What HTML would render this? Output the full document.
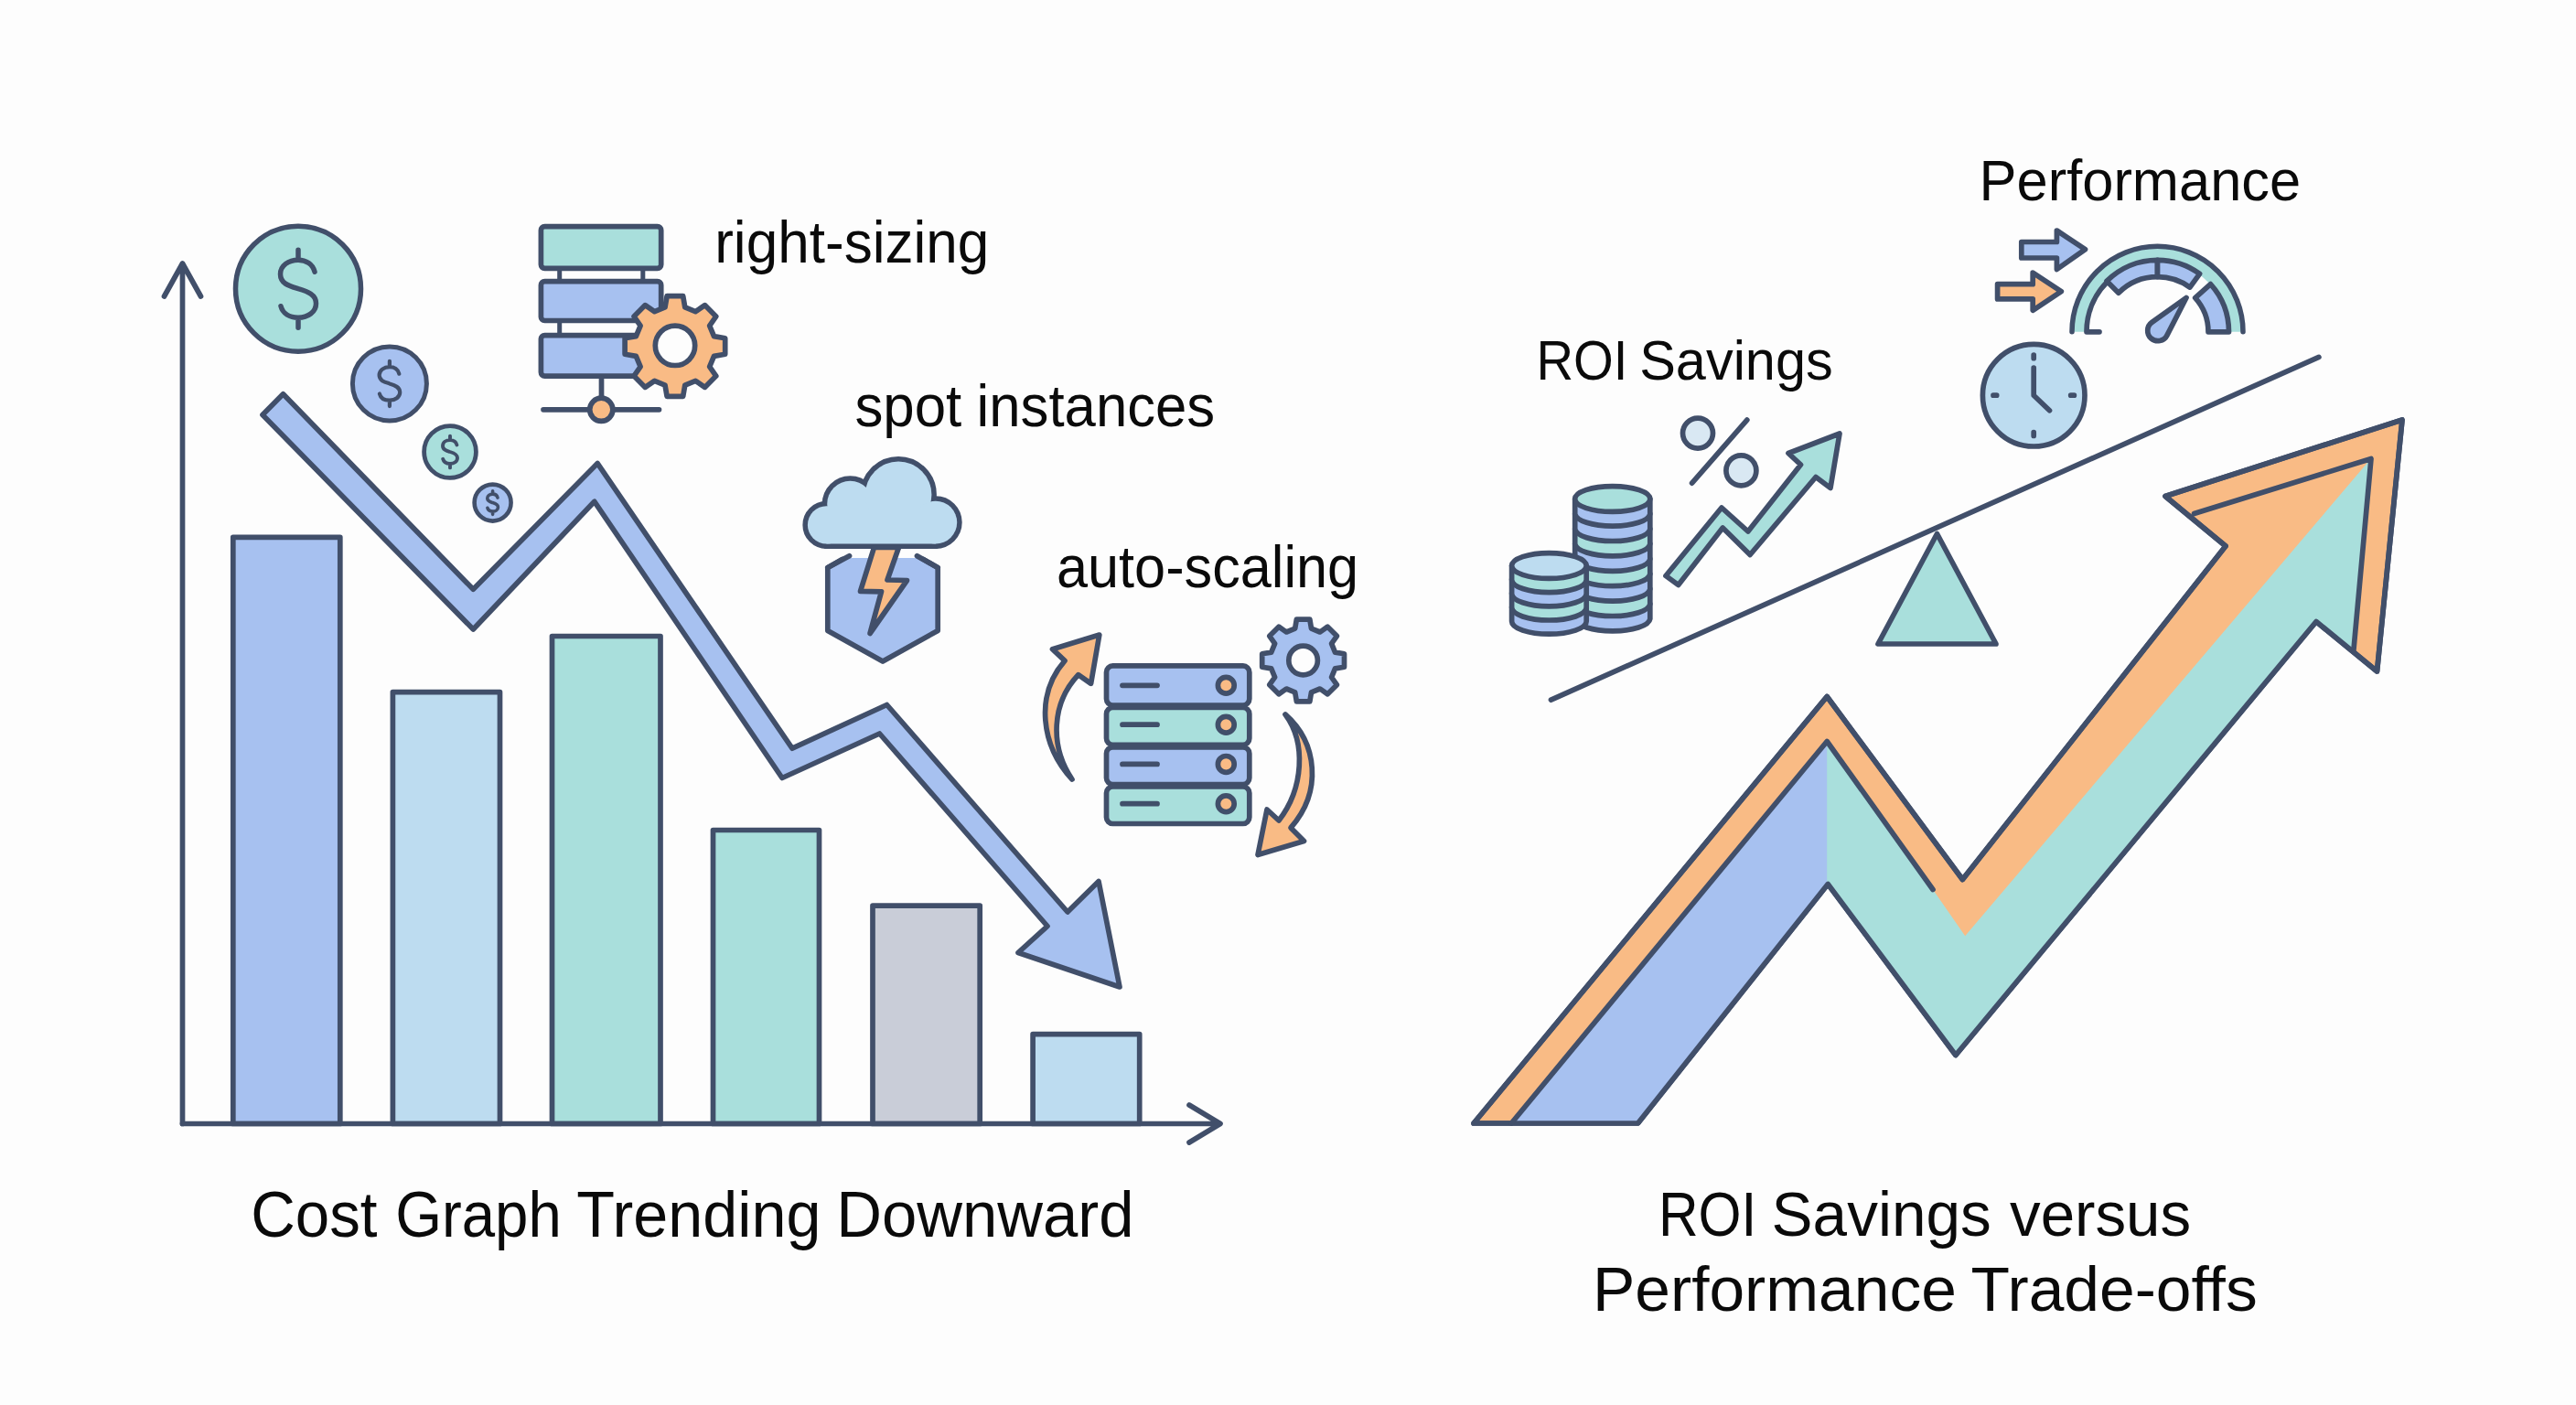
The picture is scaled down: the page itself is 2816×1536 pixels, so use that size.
<!DOCTYPE html>
<html><head><meta charset="utf-8"><style>
html,body{margin:0;padding:0;background:#fdfdfd;}
svg{display:block;}
text{font-family:"Liberation Sans",sans-serif;}
</style></head><body>
<svg width="2816" height="1536" viewBox="0 0 2816 1536">
<rect width="2816" height="1536" fill="#fdfdfd"/>
<rect x="254.8" y="587.3" width="117.0" height="641.2" fill="#a7c1f0" stroke="#414f6a" stroke-width="5.7" stroke-linejoin="round"/>
<rect x="429.4" y="756.7" width="117.1" height="471.8" fill="#bddcf0" stroke="#414f6a" stroke-width="5.7" stroke-linejoin="round"/>
<rect x="603.5" y="695.5" width="118.5" height="533.0" fill="#a9dfdc" stroke="#414f6a" stroke-width="5.7" stroke-linejoin="round"/>
<rect x="779.5" y="907.5" width="116.0" height="321.0" fill="#a9dfdc" stroke="#414f6a" stroke-width="5.7" stroke-linejoin="round"/>
<rect x="954.0" y="990.1" width="117.2" height="238.4" fill="#c9cdd8" stroke="#414f6a" stroke-width="5.7" stroke-linejoin="round"/>
<rect x="1129.1" y="1130.7" width="116.6" height="97.8" fill="#bddcf0" stroke="#414f6a" stroke-width="5.7" stroke-linejoin="round"/>
<path d="M199.5,1228.5 L199.5,288 M179.5,324 L199.5,288 L219.5,324" fill="none" stroke="#414f6a" stroke-width="5.7" stroke-linecap="round" stroke-linejoin="round"/>
<path d="M199.5,1228.5 L1333,1228.5 M1300,1208 L1334,1228.5 L1300,1249" fill="none" stroke="#414f6a" stroke-width="5.7" stroke-linecap="round" stroke-linejoin="round"/>
<polygon points="309.5,430.8 517.3,644.3 653.2,506.6 866.0,818.2 969.5,770.5 1167.0,997.0 1201.0,963.5 1224.0,1079.0 1113.0,1041.5 1145.0,1012.5 961.5,802.0 855.0,850.5 649.8,548.3 517.3,688.0 287.0,453.5" fill="#a7c1f0" stroke="#414f6a" stroke-width="5.7" stroke-linejoin="round"/>
<circle cx="326" cy="315.7" r="68.5" fill="#a9dfdc" stroke="#414f6a" stroke-width="5.5"/>
<path d="M18,-18.5 C16,-27 8.5,-31.5 0,-31.5 C-10.5,-31.5 -19.5,-25.5 -19.5,-16 C-19.5,-5.5 -9.5,-3 0,0 C10.5,3 19.5,6.5 19.5,16 C19.5,25.5 10.5,31.5 0,31.5 C-9.5,31.5 -17,27 -19,19 M0,-42.5 L0,-31.5 M0,31.5 L0,42.5" transform="translate(326,315.7) scale(1.0)" fill="none" stroke="#414f6a" stroke-width="5.50" stroke-linecap="round"/>
<circle cx="425.9" cy="419.4" r="40.5" fill="#a7c1f0" stroke="#414f6a" stroke-width="5.0"/>
<path d="M18,-18.5 C16,-27 8.5,-31.5 0,-31.5 C-10.5,-31.5 -19.5,-25.5 -19.5,-16 C-19.5,-5.5 -9.5,-3 0,0 C10.5,3 19.5,6.5 19.5,16 C19.5,25.5 10.5,31.5 0,31.5 C-9.5,31.5 -17,27 -19,19 M0,-42.5 L0,-31.5 M0,31.5 L0,42.5" transform="translate(425.9,419.4) scale(0.58)" fill="none" stroke="#414f6a" stroke-width="7.24" stroke-linecap="round"/>
<circle cx="492.0" cy="494.0" r="28.4" fill="#a9dfdc" stroke="#414f6a" stroke-width="4.8"/>
<path d="M18,-18.5 C16,-27 8.5,-31.5 0,-31.5 C-10.5,-31.5 -19.5,-25.5 -19.5,-16 C-19.5,-5.5 -9.5,-3 0,0 C10.5,3 19.5,6.5 19.5,16 C19.5,25.5 10.5,31.5 0,31.5 C-9.5,31.5 -17,27 -19,19 M0,-42.5 L0,-31.5 M0,31.5 L0,42.5" transform="translate(492.0,494.0) scale(0.41)" fill="none" stroke="#414f6a" stroke-width="9.51" stroke-linecap="round"/>
<circle cx="538.6" cy="549.6" r="20.0" fill="#a7c1f0" stroke="#414f6a" stroke-width="4.6"/>
<path d="M18,-18.5 C16,-27 8.5,-31.5 0,-31.5 C-10.5,-31.5 -19.5,-25.5 -19.5,-16 C-19.5,-5.5 -9.5,-3 0,0 C10.5,3 19.5,6.5 19.5,16 C19.5,25.5 10.5,31.5 0,31.5 C-9.5,31.5 -17,27 -19,19 M0,-42.5 L0,-31.5 M0,31.5 L0,42.5" transform="translate(538.6,549.6) scale(0.3)" fill="none" stroke="#414f6a" stroke-width="12.00" stroke-linecap="round"/>
<rect x="609.2" y="294" width="5" height="13" fill="#414f6a"/>
<rect x="700.3" y="294" width="5" height="13" fill="#414f6a"/>
<rect x="609.2" y="351" width="5" height="15" fill="#414f6a"/>
<rect x="700.3" y="351" width="5" height="15" fill="#414f6a"/>
<rect x="591.4" y="247.7" width="131.3" height="45.6" rx="4" fill="#a9dfdc" stroke="#414f6a" stroke-width="5.7"/>
<rect x="591.4" y="307.7" width="131.3" height="42.8" rx="4" fill="#a7c1f0" stroke="#414f6a" stroke-width="5.7"/>
<rect x="591.4" y="366.6" width="131.3" height="44.5" rx="4" fill="#a7c1f0" stroke="#414f6a" stroke-width="5.7"/>
<path d="M657.5,413 L657.5,436 M594,447.8 L720.5,447.8" fill="none" stroke="#414f6a" stroke-width="5.7" stroke-linecap="round"/>
<circle cx="657.3" cy="447.8" r="12.6" fill="#f9bb85" stroke="#414f6a" stroke-width="5.7"/>
<path d="M727.0,335.9 L729.1,323.7 L746.7,323.7 L748.8,335.9 L760.3,340.7 L770.5,333.6 L782.8,345.9 L775.7,356.1 L780.5,367.6 L792.7,369.7 L792.7,387.3 L780.5,389.4 L775.7,400.9 L782.8,411.1 L770.5,423.4 L760.3,416.3 L748.8,421.1 L746.7,433.3 L729.1,433.3 L727.0,421.1 L715.5,416.3 L705.3,423.4 L693.0,411.1 L700.1,400.9 L695.3,389.4 L683.1,387.3 L683.1,369.7 L695.3,367.6 L700.1,356.1 L693.0,345.9 L705.3,333.6 L715.5,340.7 Z" fill="#f9bb85" stroke="#414f6a" stroke-width="5.7" stroke-linejoin="round"/>
<circle cx="738" cy="377.8" r="21.7" fill="#fdfdfd" stroke="#414f6a" stroke-width="5.7"/>
<clipPath id="hexclip"><rect x="880" y="608.5" width="170" height="140"/></clipPath>
<polygon points="965.0,723.1 904.8,689.4 904.8,620.6 965.0,585.8 1025.2,620.6 1025.2,689.4" fill="#a7c1f0" stroke="#414f6a" stroke-width="5.7" stroke-linejoin="round" clip-path="url(#hexclip)"/>
<rect x="925" y="598" width="80" height="12" fill="#fdfdfd"/>
<path d="M904.8,620.6 L928.5,607.7 M1002.5,607.7 L1025.2,620.6" fill="none" stroke="#414f6a" stroke-width="5.7" stroke-linecap="round"/>
<g>
<circle cx="903.5" cy="573.9" r="20.6" fill="#414f6a" stroke="#414f6a" stroke-width="11"/>
<circle cx="929.4" cy="551.0" r="25.2" fill="#414f6a" stroke="#414f6a" stroke-width="11"/>
<circle cx="982.1" cy="540.8" r="36.3" fill="#414f6a" stroke="#414f6a" stroke-width="11"/>
<circle cx="1022.8" cy="571.1" r="23.4" fill="#414f6a" stroke="#414f6a" stroke-width="11"/>
<rect x="903.5" y="558" width="119.3" height="36.5" fill="#414f6a" stroke="#414f6a" stroke-width="11" stroke-linejoin="round"/>
<circle cx="903.5" cy="573.9" r="20.6" fill="#bddcf0"/>
<circle cx="929.4" cy="551.0" r="25.2" fill="#bddcf0"/>
<circle cx="982.1" cy="540.8" r="36.3" fill="#bddcf0"/>
<circle cx="1022.8" cy="571.1" r="23.4" fill="#bddcf0"/>
<rect x="903.5" y="558" width="119.3" height="36.5" fill="#bddcf0"/>
</g>
<polygon points="955.5,598.5 982.5,598.5 970.0,634.0 991.5,634.5 951.0,692.5 963.5,646.8 940.5,646.3" fill="#f9bb85" stroke="#414f6a" stroke-width="5.7" stroke-linejoin="round"/>
<rect x="1209.5" y="727.9" width="156.3" height="43.1" rx="7" fill="#a7c1f0" stroke="#414f6a" stroke-width="5.7"/>
<rect x="1209.5" y="773.5" width="156.3" height="40.8" rx="7" fill="#a9dfdc" stroke="#414f6a" stroke-width="5.7"/>
<rect x="1209.5" y="816.8" width="156.3" height="40.7" rx="7" fill="#a7c1f0" stroke="#414f6a" stroke-width="5.7"/>
<rect x="1209.5" y="860.0" width="156.3" height="40.5" rx="7" fill="#a9dfdc" stroke="#414f6a" stroke-width="5.7"/>
<path d="M1227,749.3 L1265,749.3" stroke="#414f6a" stroke-width="5.7" stroke-linecap="round"/>
<circle cx="1340.3" cy="749.3" r="8.9" fill="#f9bb85" stroke="#414f6a" stroke-width="5.7"/>
<path d="M1227,792.2 L1265,792.2" stroke="#414f6a" stroke-width="5.7" stroke-linecap="round"/>
<circle cx="1340.3" cy="792.2" r="8.9" fill="#f9bb85" stroke="#414f6a" stroke-width="5.7"/>
<path d="M1227,835.4 L1265,835.4" stroke="#414f6a" stroke-width="5.7" stroke-linecap="round"/>
<circle cx="1340.3" cy="835.4" r="8.9" fill="#f9bb85" stroke="#414f6a" stroke-width="5.7"/>
<path d="M1227,878.7 L1265,878.7" stroke="#414f6a" stroke-width="5.7" stroke-linecap="round"/>
<circle cx="1340.3" cy="878.7" r="8.9" fill="#f9bb85" stroke="#414f6a" stroke-width="5.7"/>
<path d="M1415.7,687.1 L1417.4,677.1 L1431.8,677.1 L1433.5,687.1 L1443.0,691.0 L1451.3,685.2 L1461.4,695.3 L1455.6,703.6 L1459.5,713.1 L1469.5,714.8 L1469.5,729.2 L1459.5,730.9 L1455.6,740.4 L1461.4,748.7 L1451.3,758.8 L1443.0,753.0 L1433.5,756.9 L1431.8,766.9 L1417.4,766.9 L1415.7,756.9 L1406.2,753.0 L1397.9,758.8 L1387.8,748.7 L1393.6,740.4 L1389.7,730.9 L1379.7,729.2 L1379.7,714.8 L1389.7,713.1 L1393.6,703.6 L1387.8,695.3 L1397.9,685.2 L1406.2,691.0 Z" fill="#a7c1f0" stroke="#414f6a" stroke-width="5.7" stroke-linejoin="round"/>
<circle cx="1424.6" cy="722" r="15.8" fill="#fdfdfd" stroke="#414f6a" stroke-width="5.7"/>
<path d="M1172,852 C1138,815 1131,760 1164,722.3 L1150.5,709.7 L1201.8,694.1 L1192.6,747.3 L1178.7,737.7 C1150,768 1147,815 1172,852 Z" fill="#f9bb85" stroke="#414f6a" stroke-width="5.7" stroke-linejoin="round"/>
<path d="M1405,781 C1440,812 1446,865 1411,905 L1425.5,919.5 L1375,934.5 L1385,885 L1398,897 C1425,862 1428,812 1405,781 Z" fill="#f9bb85" stroke="#414f6a" stroke-width="5.7" stroke-linejoin="round"/>
<polygon points="1611.0,1228.0 1997.2,761.5 2145.4,961.5 2433.0,597.0 2367.0,542.5 2626.0,459.0 2598.5,734.0 2532.0,679.5 2137.9,1153.5 1998.2,966.5 1790.5,1228.0" fill="#f9bb85" stroke="#414f6a" stroke-width="5.7" stroke-linejoin="round"/>
<polygon points="1652.2,1228.0 1997.2,810.5 2113.0,972.5 2148.2,1023.2 2590.0,503.5 2572.9,710.8 2532.0,679.5 2137.9,1153.5 1998.2,966.5 1790.5,1228.0" fill="#a9dfdc"/>
<polygon points="1652.2,1228.0 1997.2,810.5 1997.2,966.5 1790.5,1228.0" fill="#a7c1f0"/>
<polygon points="1611.0,1228.0 1997.2,761.5 2145.4,961.5 2433.0,597.0 2367.0,542.5 2626.0,459.0 2598.5,734.0 2532.0,679.5 2137.9,1153.5 1998.2,966.5 1790.5,1228.0" fill="none" stroke="#414f6a" stroke-width="5.7" stroke-linejoin="round"/>
<path d="M1652.2,1228.0 L1997.2,810.5 L2113.0,972.5 M2398.5,561.5 L2592.0,501.5 L2572.9,710.8" fill="none" stroke="#414f6a" stroke-width="5.7" stroke-linejoin="round" stroke-linecap="round"/>
<path d="M1695.5,765.2 L2534.9,390.4" stroke="#414f6a" stroke-width="5.7" stroke-linecap="round"/>
<polygon points="2117.5,583.5 2053.0,704.0 2182.0,704.0" fill="#a9dfdc" stroke="#414f6a" stroke-width="5.7" stroke-linejoin="round"/>
<path d="M1721.7,660.3 L1721.7,676.7 A41.1,13.9 0 0 0 1803.8,676.7 L1803.8,660.3 Z" fill="#a7c1f0" stroke="#414f6a" stroke-width="5.7" stroke-linejoin="round"/>
<path d="M1721.7,643.9 L1721.7,660.3 A41.1,13.9 0 0 0 1803.8,660.3 L1803.8,643.9 Z" fill="#a9dfdc" stroke="#414f6a" stroke-width="5.7" stroke-linejoin="round"/>
<path d="M1721.7,627.5 L1721.7,643.9 A41.1,13.9 0 0 0 1803.8,643.9 L1803.8,627.5 Z" fill="#a7c1f0" stroke="#414f6a" stroke-width="5.7" stroke-linejoin="round"/>
<path d="M1721.7,611.1 L1721.7,627.5 A41.1,13.9 0 0 0 1803.8,627.5 L1803.8,611.1 Z" fill="#a9dfdc" stroke="#414f6a" stroke-width="5.7" stroke-linejoin="round"/>
<path d="M1721.7,594.7 L1721.7,611.1 A41.1,13.9 0 0 0 1803.8,611.1 L1803.8,594.7 Z" fill="#a7c1f0" stroke="#414f6a" stroke-width="5.7" stroke-linejoin="round"/>
<path d="M1721.7,578.3 L1721.7,594.7 A41.1,13.9 0 0 0 1803.8,594.7 L1803.8,578.3 Z" fill="#a9dfdc" stroke="#414f6a" stroke-width="5.7" stroke-linejoin="round"/>
<path d="M1721.7,561.9 L1721.7,578.3 A41.1,13.9 0 0 0 1803.8,578.3 L1803.8,561.9 Z" fill="#a7c1f0" stroke="#414f6a" stroke-width="5.7" stroke-linejoin="round"/>
<path d="M1721.7,545.5 L1721.7,561.9 A41.1,13.9 0 0 0 1803.8,561.9 L1803.8,545.5 Z" fill="#a7c1f0" stroke="#414f6a" stroke-width="5.7" stroke-linejoin="round"/>
<ellipse cx="1762.75" cy="545.5" rx="41.1" ry="13.9" fill="#a9dfdc" stroke="#414f6a" stroke-width="5.7"/>
<path d="M1652.6,664.1 L1652.6,679.3 A40.8,13.9 0 0 0 1734.2,679.3 L1734.2,664.1 Z" fill="#a7c1f0" stroke="#414f6a" stroke-width="5.7" stroke-linejoin="round"/>
<path d="M1652.6,648.9 L1652.6,664.1 A40.8,13.9 0 0 0 1734.2,664.1 L1734.2,648.9 Z" fill="#a9dfdc" stroke="#414f6a" stroke-width="5.7" stroke-linejoin="round"/>
<path d="M1652.6,633.7 L1652.6,648.9 A40.8,13.9 0 0 0 1734.2,648.9 L1734.2,633.7 Z" fill="#a7c1f0" stroke="#414f6a" stroke-width="5.7" stroke-linejoin="round"/>
<path d="M1652.6,618.5 L1652.6,633.7 A40.8,13.9 0 0 0 1734.2,633.7 L1734.2,618.5 Z" fill="#a9dfdc" stroke="#414f6a" stroke-width="5.7" stroke-linejoin="round"/>
<ellipse cx="1693.4" cy="618.5" rx="40.8" ry="13.9" fill="#bddcf0" stroke="#414f6a" stroke-width="5.7"/>
<circle cx="1856" cy="473.6" r="16.5" fill="#d9e8f3" stroke="#414f6a" stroke-width="5.7"/>
<circle cx="1903.4" cy="514.4" r="16.5" fill="#d9e8f3" stroke="#414f6a" stroke-width="5.7"/>
<path d="M1849.6,528.2 L1909.8,459.1" stroke="#414f6a" stroke-width="5.7" stroke-linecap="round"/>
<polygon points="1821.0,629.5 1882.0,555.0 1910.9,581.0 1968.5,508.0 1955.0,495.5 2011.0,474.0 2001.0,533.5 1985.0,521.5 1913.1,606.5 1883.2,577.0 1834.7,639.5" fill="#a9dfdc" stroke="#414f6a" stroke-width="5.7" stroke-linejoin="round"/>
<polygon points="2209.8,264.5 2248.4,264.5 2248.4,252 2279.5,272.6 2248.4,294.5 2248.4,282 2209.8,282" fill="#a7c1f0" stroke="#414f6a" stroke-width="5.7" stroke-linejoin="round"/>
<polygon points="2183.6,310.7 2222.2,310.7 2222.2,298.2 2253.3,318.7 2222.2,339.3 2222.2,326.9 2183.6,326.9" fill="#f9bb85" stroke="#414f6a" stroke-width="5.7" stroke-linejoin="round"/>
<path d="M2265.0,362.8 A93.5,93.5 0 0 1 2452.0,362.8 L2436.0,362.8 A77.5,77.5 0 0 0 2281.0,362.8 Z" fill="#a9dfdc"/>
<path d="M2303.0,307.3 A78.5,78.5 0 0 1 2358.5,284.3 L2358.5,302.6 A60.2,60.2 0 0 0 2315.9,320.2 Z" fill="#a7c1f0" stroke="#414f6a" stroke-width="5.7" stroke-linejoin="round"/>
<path d="M2358.5,284.3 A78.5,78.5 0 0 1 2404.6,299.3 L2393.9,314.1 A60.2,60.2 0 0 0 2358.5,302.6 Z" fill="#a7c1f0" stroke="#414f6a" stroke-width="5.7" stroke-linejoin="round"/>
<path d="M2416.5,310.6 A78.0,78.0 0 0 1 2436.5,362.8 L2414.0,362.8 A55.5,55.5 0 0 0 2399.7,325.7 Z" fill="#a7c1f0" stroke="#414f6a" stroke-width="5.7" stroke-linejoin="round"/>
<path d="M2265.0,362.8 A93.5,93.5 0 0 1 2452.0,362.8" fill="none" stroke="#414f6a" stroke-width="5.5" stroke-linecap="round"/>
<path d="M2295.0,362.8 L2281.0,362.8 A77.5,77.5 0 0 1 2303.7,308.0" fill="none" stroke="#414f6a" stroke-width="5.7" stroke-linecap="round" stroke-linejoin="round"/>
<path d="M2368.9,366.6 L2390.0,325.5 L2352.4,352.4 A11.2,11.2 0 1 0 2368.9,366.6 Z" fill="#a7c1f0" stroke="#414f6a" stroke-width="5.7" stroke-linejoin="round"/>
<circle cx="2223.2" cy="432.2" r="55.8" fill="#bddcf0" stroke="#414f6a" stroke-width="5.7"/>
<path d="M2223.2,391.7 L2223.2,388.0 M2263.7,432.2 L2267.4,432.2 M2223.2,472.7 L2223.2,476.4 M2182.7,432.2 L2179.0,432.2" stroke="#414f6a" stroke-width="5.7" stroke-linecap="round"/>
<path d="M2223.2,402.2 L2223.2,432.2 L2240.5,448.7" fill="none" stroke="#414f6a" stroke-width="5.7" stroke-linecap="round" stroke-linejoin="round"/>
<text x="781.2" y="287.3" font-family="&quot;Liberation Sans&quot;, sans-serif" font-size="64" fill="#0a0a0a" textLength="300.2" lengthAdjust="spacingAndGlyphs">right-sizing</text>
<text x="934.4" y="465.5" font-family="&quot;Liberation Sans&quot;, sans-serif" font-size="64" fill="#0a0a0a" textLength="116.8" lengthAdjust="spacingAndGlyphs">spot</text>
<text x="1067.6" y="465.5" font-family="&quot;Liberation Sans&quot;, sans-serif" font-size="64" fill="#0a0a0a" textLength="260.6" lengthAdjust="spacingAndGlyphs">instances</text>
<text x="1155.0" y="642.4" font-family="&quot;Liberation Sans&quot;, sans-serif" font-size="64" fill="#0a0a0a" textLength="330.1" lengthAdjust="spacingAndGlyphs">auto-scaling</text>
<text x="1679.4" y="414.5" font-family="&quot;Liberation Sans&quot;, sans-serif" font-size="61" fill="#0a0a0a" textLength="100.0" lengthAdjust="spacingAndGlyphs">ROI</text>
<text x="1792.2" y="414.5" font-family="&quot;Liberation Sans&quot;, sans-serif" font-size="61" fill="#0a0a0a" textLength="211.5" lengthAdjust="spacingAndGlyphs">Savings</text>
<text x="2163.6" y="218.5" font-family="&quot;Liberation Sans&quot;, sans-serif" font-size="62.5" fill="#0a0a0a" textLength="351.6" lengthAdjust="spacingAndGlyphs">Performance</text>
<text x="274.2" y="1351.5" font-family="&quot;Liberation Sans&quot;, sans-serif" font-size="69.5" fill="#0a0a0a" textLength="138.3" lengthAdjust="spacingAndGlyphs">Cost</text>
<text x="432.2" y="1351.5" font-family="&quot;Liberation Sans&quot;, sans-serif" font-size="69.5" fill="#0a0a0a" textLength="181.6" lengthAdjust="spacingAndGlyphs">Graph</text>
<text x="630.2" y="1351.5" font-family="&quot;Liberation Sans&quot;, sans-serif" font-size="69.5" fill="#0a0a0a" textLength="267.3" lengthAdjust="spacingAndGlyphs">Trending</text>
<text x="914.2" y="1351.5" font-family="&quot;Liberation Sans&quot;, sans-serif" font-size="69.5" fill="#0a0a0a" textLength="325.3" lengthAdjust="spacingAndGlyphs">Downward</text>
<text x="1813.0" y="1351.2" font-family="&quot;Liberation Sans&quot;, sans-serif" font-size="68" fill="#0a0a0a" textLength="107.4" lengthAdjust="spacingAndGlyphs">ROI</text>
<text x="1936.6" y="1351.2" font-family="&quot;Liberation Sans&quot;, sans-serif" font-size="68" fill="#0a0a0a" textLength="240.1" lengthAdjust="spacingAndGlyphs">Savings</text>
<text x="2197.0" y="1351.2" font-family="&quot;Liberation Sans&quot;, sans-serif" font-size="68" fill="#0a0a0a" textLength="198.1" lengthAdjust="spacingAndGlyphs">versus</text>
<text x="1741.0" y="1432.9" font-family="&quot;Liberation Sans&quot;, sans-serif" font-size="68" fill="#0a0a0a" textLength="397.8" lengthAdjust="spacingAndGlyphs">Performance</text>
<text x="2154.6" y="1432.9" font-family="&quot;Liberation Sans&quot;, sans-serif" font-size="68" fill="#0a0a0a" textLength="313.1" lengthAdjust="spacingAndGlyphs">Trade-offs</text>
</svg>
</body></html>
